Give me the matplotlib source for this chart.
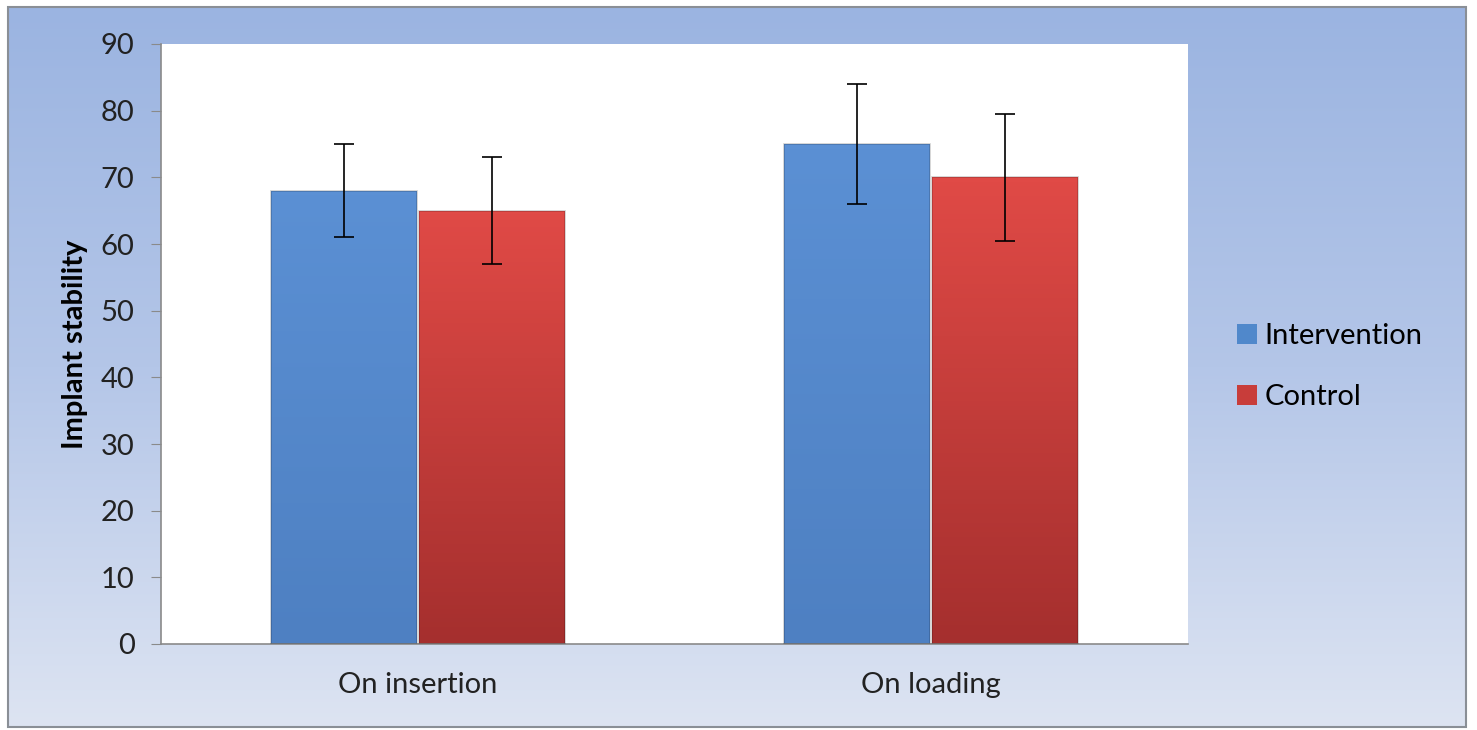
import numpy as np
import matplotlib
matplotlib.use("Agg")
import matplotlib.pyplot as plt
from matplotlib.patches import Rectangle
from matplotlib.colors import LinearSegmentedColormap

categories = ["On insertion", "On loading"]
series = ["Intervention", "Control"]
intervention = [68, 75]
intervention_err = [7, 9]
control = [65, 70]
control_err = [8, 9.5]
yticks = [0, 10, 20, 30, 40, 50, 60, 70, 80, 90]

plt.rcParams['font.family'] = ['Lato', 'DejaVu Sans']

W, H = 1477, 730
fig = plt.figure(figsize=(W / 100, H / 100), dpi=100)
fig.patch.set_facecolor("white")

# gradient background of chart area
bg = fig.add_axes([0, 0, 1, 1], zorder=-10)
bg.set_xlim(0, W)
bg.set_ylim(H, 0)
bg.axis("off")
bg_cmap = LinearSegmentedColormap.from_list("bg", ["#9bb4e1", "#b4c6e8", "#dde4f2"])
grad = np.linspace(0, 1, 256).reshape(-1, 1)
bg.imshow(grad, cmap=bg_cmap, aspect="auto", extent=(8, 1466, 727, 7), zorder=0)
bg.add_patch(Rectangle((8, 7), 1458, 720, fill=False, edgecolor="#8a8f96", lw=1.5, zorder=1))

ax = fig.add_axes([161 / W, 1 - 644 / H, (1188 - 161) / W, (644 - 44) / H])
ax.set_facecolor("white")

x = np.arange(len(categories))
width = 0.284
colors = {"Intervention": ("#5b90d4", "#4e80c2", "#5088cb"),
          "Control": ("#e04a46", "#a52f2e", "#c83d3a")}

for vals, errs, name, off in [(intervention, intervention_err, "Intervention", -width / 2 - 0.002),
                              (control, control_err, "Control", width / 2 + 0.002)]:
    top, bot, mid = colors[name]
    bars = ax.bar(x + off, vals, width, color=mid, label=name, zorder=2,
                  edgecolor="none")
    cm = LinearSegmentedColormap.from_list(name, [bot, top])
    for b in bars:
        im = ax.imshow(np.linspace(0, 1, 100).reshape(-1, 1)[::-1], cmap=cm, aspect="auto",
                       extent=(b.get_x(), b.get_x() + b.get_width(), 0, b.get_height()),
                       zorder=2.5)
        im.set_clip_path(b)
        ax.add_patch(Rectangle((b.get_x(), 0), b.get_width(), b.get_height(), fill=False,
                               edgecolor="#00000030", lw=1.2, zorder=2.6))
    ax.errorbar(x + off, vals, yerr=errs, fmt="none", ecolor="black", elinewidth=1.2,
                capsize=7, capthick=1.2, zorder=3)

ax.set_xlim(-0.5, 1.5)
ax.set_ylim(0, 90)
ax.set_yticks(yticks)
ax.set_xticks(x)
ax.set_xticklabels(categories)
ax.tick_params(axis="x", length=0, pad=20, labelsize=21, labelcolor="#222222")
ax.tick_params(axis="y", length=7, color="#8a8a8a", labelsize=21, labelcolor="#222222", pad=12)
for s in ["top", "right"]:
    ax.spines[s].set_visible(False)
for s in ["left", "bottom"]:
    ax.spines[s].set_color("#8a8a8a")
    ax.spines[s].set_linewidth(1.2)
ax.set_ylabel("Implant stability", fontsize=21, fontweight="bold", labelpad=9)

ax.legend(loc="center left", bbox_to_anchor=(1.022, 0.462), frameon=False, fontsize=21,
          handlelength=0.7, handleheight=0.7, handletextpad=0.25, labelspacing=1.2)

fig.savefig("out.png", dpi=100, facecolor=fig.get_facecolor())
